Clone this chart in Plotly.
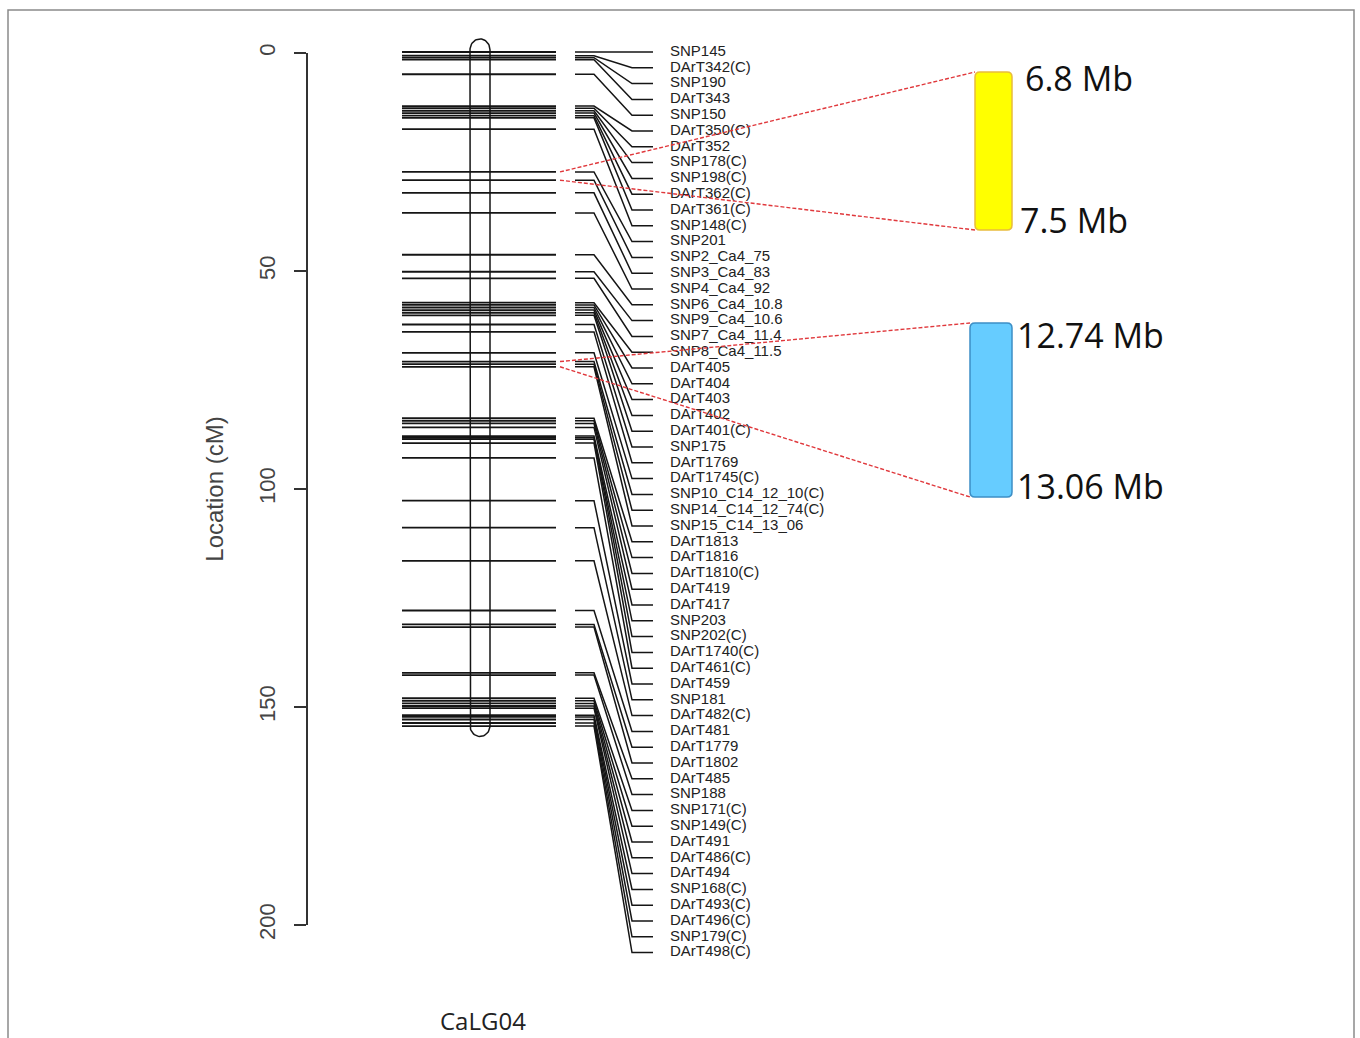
import numpy as np
import plotly.graph_objects as go

# ---------------- data ----------------
marker_names = [
    "SNP145", "DArT342(C)", "SNP190", "DArT343", "SNP150", "DArT350(C)", "DArT352",
    "SNP178(C)", "SNP198(C)", "DArT362(C)", "DArT361(C)", "SNP148(C)", "SNP201",
    "SNP2_Ca4_75", "SNP3_Ca4_83", "SNP4_Ca4_92", "SNP6_Ca4_10.8", "SNP9_Ca4_10.6",
    "SNP7_Ca4_11.4", "SNP8_Ca4_11.5", "DArT405", "DArT404", "DArT403", "DArT402",
    "DArT401(C)", "SNP175", "DArT1769", "DArT1745(C)", "SNP10_C14_12_10(C)",
    "SNP14_C14_12_74(C)", "SNP15_C14_13_06", "DArT1813", "DArT1816", "DArT1810(C)",
    "DArT419", "DArT417", "SNP203", "SNP202(C)", "DArT1740(C)", "DArT461(C)",
    "DArT459", "SNP181", "DArT482(C)", "DArT481", "DArT1779", "DArT1802", "DArT485",
    "SNP188", "SNP171(C)", "SNP149(C)", "DArT491", "DArT486(C)", "DArT494",
    "SNP168(C)", "DArT493(C)", "DArT496(C)", "SNP179(C)", "DArT498(C)",
]
marker_cm = [
    0, 0.85, 1.3, 1.75, 5.1, 12.4, 12.9, 13.5, 14.0, 14.6, 15.1, 17.7, 27.5, 29.4,
    32.3, 36.9, 46.5, 50.4, 51.9, 57.5, 58.0, 58.6, 59.2, 59.8, 60.4, 62.5, 64.2,
    69.0, 71.0, 71.6, 72.2, 84.0, 84.6, 85.2, 86.1, 88.1, 88.5, 88.8, 89.7, 93.1,
    102.9, 109.1, 116.7, 128.1, 131.3, 131.9, 142.4, 142.9, 148.2, 148.8, 149.4,
    150.0, 150.5, 152.1, 152.5, 153.1, 153.9, 154.6,
]
axis_ticks = [0, 50, 100, 150, 200]
group_name = "CaLG04"
region_marker_idx = [[12, 13], [28, 30]]          # markers flanking each region
region_labels = [["6.8 Mb", "7.5 Mb"], ["12.74 Mb", "13.06 Mb"]]
region_colors = ["#FFFF00", "#66CCFF"]
region_edges = ["#E9BC3C", "#3C8EC6"]

# ---------------- layout helpers ----------------
W, H = 1360, 1038
PX0, PXCM = 52.0, 4.36           # pixel of 0 cM, pixels per cM


def cm(px):
    return (px - PX0) / PXCM


n = len(marker_cm)
gap = 15.8 / PXCM
label_y = []
for i, p in enumerate(marker_cm):
    label_y.append(p if i == 0 else max(p, label_y[-1] + gap))

line_col = "#151515"
fig = go.Figure()

# marker lines across chromosome
xs, ys = [], []
for p in marker_cm:
    xs += [402, 556, None]
    ys += [p, p, None]
fig.add_trace(go.Scatter(x=xs, y=ys, mode="lines", line=dict(color=line_col, width=1.8),
                         hoverinfo="skip", showlegend=False))

# connector lines
xs, ys = [], []
for p, ly in zip(marker_cm, label_y):
    xs += [575, 594, 632, 653, None]
    ys += [p, p, ly, ly, None]
fig.add_trace(go.Scatter(x=xs, y=ys, mode="lines", line=dict(color=line_col, width=1.5),
                         hoverinfo="skip", showlegend=False))

# chromosome outline
top = min(marker_cm) - 3.0
bot = max(marker_cm) + 2.4
ry = 2.5
th1 = np.linspace(0, np.pi, 30)
th2 = np.linspace(np.pi, 2 * np.pi, 30)
cx = list(480 + 10 * np.cos(th1)) + list(480 + 10 * np.cos(th2)) + [490]
cy = list(top + ry - ry * np.sin(th1)) + list(bot - ry - ry * np.sin(th2)) + [top + ry]
fig.add_trace(go.Scatter(x=cx, y=cy, mode="lines", line=dict(color=line_col, width=1.5),
                         hoverinfo="skip", showlegend=False))

# marker labels
fig.add_trace(go.Scatter(x=[670] * n, y=label_y, mode="text", text=marker_names,
                         textposition="middle right",
                         textfont=dict(family="Liberation Sans, Arial", size=15, color="#222"),
                         hoverinfo="skip", showlegend=False))

# dummy trace for the visible axis
fig.add_trace(go.Scatter(x=[None], y=[None], xaxis="x2", yaxis="y2", showlegend=False,
                         hoverinfo="skip"))

# physical regions
box_px = [(975, 1012, 72, 230), (970, 1012, 323, 497)]
lab_pos = [[(1023, 78), (1018, 220)], [(1015, 335), (1015, 486)]]


def rrect(x0, x1, y0p, y1p, r=5):
    a, b = cm(y0p), cm(y1p)
    rc = r / PXCM
    return (f"M {x0+r},{a} L {x1-r},{a} Q {x1},{a} {x1},{a+rc} L {x1},{b-rc} "
            f"Q {x1},{b} {x1-r},{b} L {x0+r},{b} Q {x0},{b} {x0},{b-rc} "
            f"L {x0},{a+rc} Q {x0},{a} {x0+r},{a} Z")


for k, (x0, x1, y0p, y1p) in enumerate(box_px):
    fig.add_shape(type="path", path=rrect(x0, x1, y0p, y1p), xref="x", yref="y",
                  fillcolor=region_colors[k], line=dict(color=region_edges[k], width=1.5),
                  layer="above")
    i0, i1 = region_marker_idx[k]
    for idx, yp in ((i0, y0p), (i1, y1p)):
        fig.add_shape(type="line", x0=560, x1=x0, y0=marker_cm[idx], y1=cm(yp),
                      xref="x", yref="y", line=dict(color="#E0383C", width=1.4, dash="4px,2px"))
    for txt, (lx, lyp) in zip(region_labels[k], lab_pos[k]):
        fig.add_annotation(x=lx, y=cm(lyp), text=txt, showarrow=False, xanchor="left",
                           yanchor="middle", xref="x", yref="y",
                           font=dict(family="Open Sans", size=34, color="#111"))

# group label
fig.add_annotation(x=483, y=cm(1020), text=group_name, showarrow=False, xref="x", yref="y",
                   font=dict(family="Open Sans", size=24, color="#222"))

# frame
fig.add_shape(type="rect", xref="paper", yref="paper", x0=8 / W, x1=1354 / W,
              y0=-0.02, y1=1 - 10 / H, line=dict(color="#8a8a8a", width=1.5))

fig.update_layout(
    width=W, height=H, margin=dict(l=0, r=0, t=0, b=0, autoexpand=False),
    paper_bgcolor="white", plot_bgcolor="rgba(0,0,0,0)",
    xaxis=dict(range=[0, W], domain=[0, 1], visible=False, fixedrange=True),
    yaxis=dict(range=[cm(H), cm(0)], domain=[0, 1], visible=False, fixedrange=True),
    xaxis2=dict(range=[0, 1], domain=[0, 1], visible=False, anchor="y2"),
    yaxis2=dict(domain=[1 - 925 / H, 1 - 53 / H], range=[200, 0], anchor="free",
                position=307 / W, side="left", showline=True, linecolor="#333", linewidth=1.5,
                ticks="outside", ticklen=12, tickwidth=1.5, tickcolor="#333",
                tickvals=axis_ticks, tickangle=-90, ticklabelstandoff=10,
                tickfont=dict(family="Liberation Sans, Arial", size=22, color="#444"),
                showgrid=False, zeroline=False, automargin=False,
                title=dict(text="Location (cM)", standoff=24,
                           font=dict(family="Liberation Sans, Arial", size=24, color="#444"))),
    showlegend=False,
)

fig.write_html("out.html")
